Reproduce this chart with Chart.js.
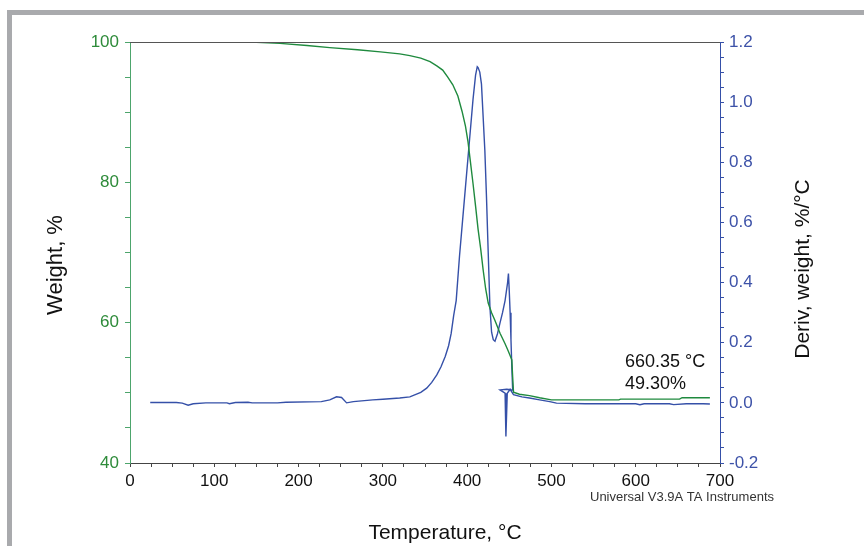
<!DOCTYPE html>
<html>
<head>
<meta charset="utf-8">
<script src="https://cdn.jsdelivr.net/npm/chart.js@4.4.1/dist/chart.umd.min.js"></script>
<style>
  html, body { margin: 0; padding: 0; background: #ffffff; }
  #wrap { position: relative; width: 864px; height: 546px; overflow: hidden; }
  canvas { position: absolute; left: 0; top: 0; }
  .frameTop { position: absolute; left: 7px; top: 10px; width: 857px; height: 5px; background: #a9aaad; }
  .frameLeft { position: absolute; left: 7px; top: 10px; width: 5px; height: 536px; background: #a9aaad; }
</style>
</head>
<body>
<div id="wrap">
  <canvas id="c" width="864" height="546"></canvas>
  <div class="frameTop"></div>
  <div class="frameLeft"></div>
</div>
<script>
// ---- Data ----
const weightTemp = [24, 60, 100, 150, 178, 210, 237, 270, 297, 320, 332, 345, 356, 364, 371, 377, 383, 389, 394, 398, 401, 404, 407, 410, 413, 416, 419, 422, 425, 429, 433, 439, 445, 449, 453, 454, 455, 462, 474, 486, 500, 540, 580, 582, 652, 655, 688];
const weightPct  = [100, 100, 100, 99.95, 99.8, 99.5, 99.2, 98.9, 98.6, 98.3, 98.05, 97.7, 97.2, 96.6, 96.0, 95.0, 93.9, 92.3, 90.1, 88.0, 85.8, 82.8, 79.8, 76.6, 73.3, 70.6, 67.5, 64.8, 62.8, 61.4, 60.3, 58.5, 57.0, 55.9, 54.7, 52.3, 50.1, 49.8, 49.6, 49.3, 49.0, 49.0, 49.0, 49.1, 49.1, 49.3, 49.3];

const derivTemp = [24, 55, 62, 69, 75, 90, 115, 118, 125, 140, 145, 175, 185, 227, 237, 245, 251, 257, 265, 288, 300, 320, 332, 345, 352, 358, 364, 369, 374, 378, 381, 384, 387, 391, 395, 399, 403, 407, 410, 412, 413, 415, 417, 419, 421, 423, 425, 427, 429, 431, 433, 436, 439, 442, 445, 448, 449, 450, 451, 452, 453, 454, 447, 439, 445, 446, 447.6, 451, 455, 465, 474, 486, 498, 506, 540, 600, 605, 610, 640, 645, 660, 680, 688];
const derivVal  = [0.001, 0.001, -0.001, -0.008, -0.003, 0.0, 0.0, -0.003, 0.001, 0.002, 0.0, 0.0, 0.002, 0.004, 0.01, 0.02, 0.018, 0.0, 0.004, 0.01, 0.012, 0.016, 0.02, 0.035, 0.049, 0.068, 0.093, 0.12, 0.154, 0.19, 0.23, 0.29, 0.34, 0.49, 0.62, 0.75, 0.88, 1.01, 1.09, 1.118, 1.115, 1.10, 1.06, 0.95, 0.84, 0.68, 0.50, 0.32, 0.235, 0.21, 0.205, 0.23, 0.266, 0.30, 0.34, 0.40, 0.43, 0.37, 0.30, 0.21, 0.12, 0.043, 0.045, 0.043, 0.032, -0.112, 0.032, 0.045, 0.027, 0.02, 0.016, 0.01, 0.004, -0.001, -0.003, -0.003, -0.006, -0.003, -0.003, -0.006, -0.003, -0.003, -0.004];

const xTickLabels = ["0", "100", "200", "300", "400", "500", "600", "700"];
const weightTickLabels = ["40", "60", "80", "100"];
const derivTickLabels = ["-0.2", "0.0", "0.2", "0.4", "0.6", "0.8", "1.0", "1.2"];

const annotTemp = "660.35 \u00B0C";
const annotWeight = "49.30%";

// ---- Styles ----
const GREEN = '#1f8a3e';
const GREEN_AXIS = '#4da56c';
const GREEN_TEXT = '#2e8b3a';
const BLUE = '#3550a8';
const BLUE_TEXT = '#3d52a8';
const FONT = 'Liberation Sans, Arial, sans-serif';

const weightPoints = weightTemp.map((t, i) => ({x: t, y: weightPct[i]}));
const derivPoints = derivTemp.map((t, i) => ({x: t, y: derivVal[i]}));

const textPlugin = {
  id: 'texts',
  afterDraw(chart) {
    const ctx = chart.ctx;
    const a = chart.chartArea;
    ctx.save();
    // top frame line of plot
    ctx.strokeStyle = '#555555';
    ctx.lineWidth = 1;
    ctx.beginPath();
    ctx.moveTo(a.left, a.top + 0.5);
    ctx.lineTo(a.right, a.top + 0.5);
    ctx.stroke();

    ctx.fillStyle = '#111111';
    ctx.font = '21px ' + FONT;
    ctx.textAlign = 'center';
    ctx.textBaseline = 'middle';
    ctx.fillText('Temperature, \u00B0C', 445, 533);

    ctx.save();
    ctx.translate(56, 265);
    ctx.rotate(-Math.PI / 2);
    ctx.font = '22px ' + FONT;
    ctx.fillText('Weight, %', 0, 0);
    ctx.restore();

    ctx.save();
    ctx.translate(803, 269);
    ctx.rotate(-Math.PI / 2);
    ctx.fillText('Deriv, weight, %/\u00B0C', 0, 0);
    ctx.restore();

    ctx.font = '13px ' + FONT;
    ctx.fillStyle = '#333333';
    ctx.fillText('Universal V3.9A TA Instruments', 682, 497);

    ctx.font = '18px ' + FONT;
    ctx.fillStyle = '#111111';
    ctx.textAlign = 'left';
    ctx.fillText(annotTemp, 625, 362);
    ctx.fillText(annotWeight, 625, 384);
    ctx.restore();
  }
};

new Chart(document.getElementById('c'), {
  type: 'scatter',
  data: {
    datasets: [
      {
        label: 'Weight',
        data: weightPoints,
        showLine: true,
        borderColor: GREEN,
        borderWidth: 1.4,
        pointRadius: 0,
        tension: 0,
        yAxisID: 'yW'
      },
      {
        label: 'Deriv. weight',
        data: derivPoints,
        showLine: true,
        borderColor: BLUE,
        borderWidth: 1.4,
        pointRadius: 0,
        tension: 0,
        yAxisID: 'yD'
      }
    ]
  },
  options: {
    responsive: false,
    animation: false,
    devicePixelRatio: 1,
    layout: { padding: { top: 42, left: 0, right: 0, bottom: 0 } },
    plugins: { legend: { display: false }, tooltip: { enabled: false } },
    scales: {
      x: {
        type: 'linear',
        position: 'bottom',
        min: 0, max: 700,
        afterFit(s) { s.height = 83; },
        border: { color: '#444444', width: 1 },
        grid: { drawOnChartArea: false, drawTicks: true, tickLength: 4, color: '#444444' },
        ticks: {
          stepSize: 25, autoSkip: false, maxRotation: 0, minRotation: 0, padding: 4,
          color: '#111111', font: { family: FONT, size: 17 },
          callback: (v) => (v % 100 === 0 ? xTickLabels[v / 100] : '')
        }
      },
      yW: {
        type: 'linear',
        position: 'left',
        min: 40, max: 100,
        afterFit(s) { s.width = 130; },
        border: { color: GREEN_AXIS, width: 1 },
        grid: { drawOnChartArea: false, drawTicks: true, tickLength: 5, color: GREEN_AXIS },
        ticks: {
          stepSize: 5, autoSkip: false, padding: 6,
          color: GREEN_TEXT, font: { family: FONT, size: 17 },
          callback: (v) => (v % 20 === 0 ? weightTickLabels[(v - 40) / 20] : '')
        }
      },
      yD: {
        type: 'linear',
        position: 'right',
        min: -0.2, max: 1.2,
        afterFit(s) { s.width = 144; },
        border: { color: BLUE, width: 1 },
        grid: { drawOnChartArea: false, drawTicks: true, tickLength: 4, color: BLUE },
        ticks: {
          stepSize: 0.05, autoSkip: false, padding: 5,
          color: BLUE_TEXT, font: { family: FONT, size: 17 },
          callback: (v) => {
            const k = Math.round(v * 20);
            return (k % 4 === 0) ? derivTickLabels[(k + 4) / 4] : '';
          }
        }
      }
    }
  },
  plugins: [textPlugin]
});
</script>
</body>
</html>
